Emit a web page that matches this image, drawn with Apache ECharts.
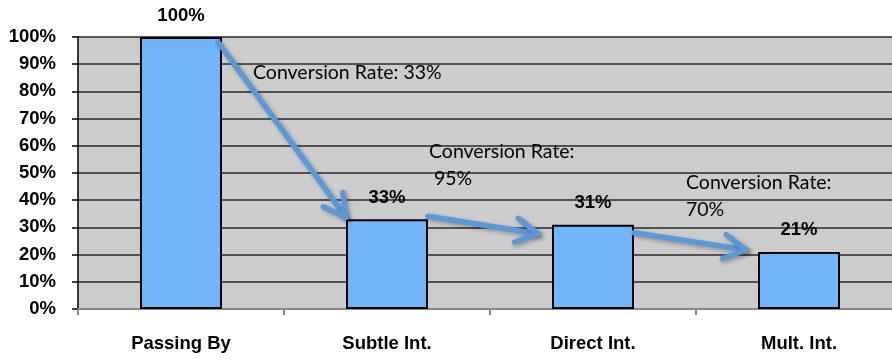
<!DOCTYPE html>
<html>
<head>
<meta charset="utf-8">
<script src="https://cdn.jsdelivr.net/npm/echarts@6/dist/echarts.min.js"></script>
<style>
  html, body { margin: 0; padding: 0; background: #fff; overflow: hidden; }
  /* 图表右侧超出画面, 容器比窗口宽一些 */
  #funnel { width: 904px; height: 361px; }
</style>
</head>
<body>
<div id="funnel"></div>
<script>
// 漏斗各阶段
var stages = ['Passing By', 'Subtle Int.', 'Direct Int.', 'Mult. Int.'];
var shares = [100, 33, 31, 21];
var yTicks = [0, 10, 20, 30, 40, 50, 60, 70, 80, 90, 100];
// 转化率说明文字
var convNotes = ['Conversion Rate: 33%', 'Conversion Rate:\n 95%', 'Conversion Rate:\n70%'];

var myChart = echarts.init(document.getElementById('funnel'));

var boldFont = {
    color: '#000',
    fontFamily: 'Liberation Sans',
    fontWeight: 'bold',
    fontSize: 18.5
};

var option = {
    animation: false,
    grid: {
        left: 78,
        top: 37,
        width: 824,
        height: 272,
        show: true,
        backgroundColor: '#cccccc',
        borderWidth: 0
    },
    xAxis: {
        type: 'category',
        data: stages,
        axisLine: { lineStyle: { color: '#888', width: 2 } },
        axisTick: { show: true, length: 6, lineStyle: { color: '#888', width: 2 } },
        axisLabel: Object.assign({ margin: 25 }, boldFont),
        splitLine: { show: false }
    },
    yAxis: {
        type: 'value',
        min: yTicks[0],
        max: yTicks[yTicks.length - 1],
        interval: 10,
        axisLine: { show: true, lineStyle: { color: '#000', width: 1.5 } },
        axisTick: { show: true, length: 6, lineStyle: { color: '#000', width: 1.5 } },
        axisLabel: Object.assign({ margin: 22, formatter: '{value}%' }, boldFont),
        splitLine: { show: true, lineStyle: { color: '#2a2a2a', width: 1.5 } }
    },
    series: [
        {
            type: 'bar',
            data: shares,
            barWidth: 82,
            itemStyle: { color: '#73b5fb', borderColor: '#000', borderWidth: 2 },
            label: Object.assign({ show: true, position: 'top', distance: 12, formatter: '{c}%' }, boldFont)
        }
    ]
};
myChart.setOption(option);

// 箭头: 起点/终点相对柱子的偏移
var arrowOffs = [
    { sx: -4, sy: 5, ex: 0, ey: -2 },
    { sx: 0, sy: -3, ex: -14, ey: 9 },
    { sx: 0, sy: 8, ex: -12, ey: -2 }
];
var notePos = [[253, 59], [429, 138], [686, 169]];
var halfBar = 41;
var arrowColor = '#5b99d6';

function arrowHead(x, y, ang) {
    var len = 25, spread = 29 * Math.PI / 180;
    var back = ang + Math.PI;
    return [
        [x + len * Math.cos(back - spread), y + len * Math.sin(back - spread)],
        [x, y],
        [x + len * Math.cos(back + spread), y + len * Math.sin(back + spread)]
    ];
}

var graphics = [];
for (var i = 0; i < stages.length - 1; i++) {
    var p1 = myChart.convertToPixel({ gridIndex: 0 }, [i, shares[i]]);
    var p2 = myChart.convertToPixel({ gridIndex: 0 }, [i + 1, shares[i + 1]]);
    var o = arrowOffs[i];
    var sx = p1[0] + halfBar + o.sx, sy = p1[1] + o.sy;
    var ex = p2[0] - halfBar + o.ex, ey = p2[1] + o.ey;
    var ang = Math.atan2(ey - sy, ex - sx);
    var lineStyle = {
        stroke: arrowColor,
        lineWidth: 5.5,
        lineCap: 'round',
        lineJoin: 'round',
        fill: null,
        shadowBlur: 4,
        shadowOffsetX: 2,
        shadowOffsetY: 2,
        shadowColor: 'rgba(0,0,0,0.3)'
    };
    graphics.push({
        type: 'line',
        shape: { x1: sx, y1: sy, x2: ex, y2: ey },
        style: lineStyle,
        z: 100
    });
    graphics.push({
        type: 'polyline',
        shape: { points: arrowHead(ex, ey, ang) },
        style: lineStyle,
        z: 100
    });
    graphics.push({
        type: 'text',
        x: notePos[i][0],
        y: notePos[i][1],
        style: {
            text: convNotes[i],
            fill: '#000',
            font: '19.5px Lato',
            lineHeight: 27
        },
        z: 101
    });
}
myChart.setOption({ graphic: graphics });
</script>
</body>
</html>
